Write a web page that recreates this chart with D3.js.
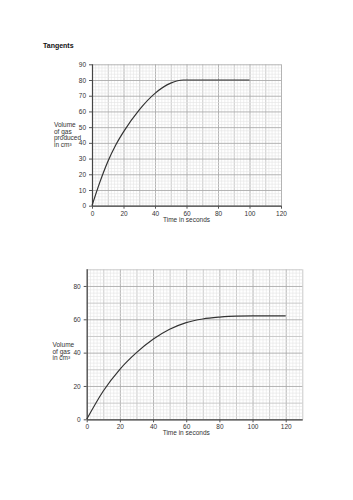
<!DOCTYPE html>
<html>
<head>
<meta charset="utf-8">
<script src="https://cdn.jsdelivr.net/npm/d3@7"></script>
<style>
  body { margin: 0; background: #fff; }
  text { font-family: "Liberation Sans", Arial, sans-serif; }
</style>
</head>
<body>
<div id="chart"></div>
<script>
// top chart
const times1 = [0, 5, 10, 15, 20, 30, 40, 50, 58, 100]
const volumes1 = [0, 15, 28, 38.5, 47, 61, 71.5, 78, 80, 80]
const xTicks1 = [0, 20, 40, 60, 80, 100, 120]
const yTicks1 = [0, 10, 20, 30, 40, 50, 60, 70, 80, 90]

// bottom chart
const times2 = [0, 10, 20, 30, 40, 50, 60, 70, 80, 90, 100, 120]
const volumes2 = [0, 17, 30, 40, 48, 54, 58, 60.2, 61.3, 61.9, 62, 62]
const xTicks2 = [0, 20, 40, 60, 80, 100, 120]
const yTicks2 = [0, 20, 40, 60, 80]

const svg = d3.select("#chart").append("svg")
    .attr("width", 353)
    .attr("height", 500)

svg.append("text")
    .attr("x", 43)
    .attr("y", 48)
    .attr("font-size", 7)
    .attr("font-weight", "bold")
    .attr("fill", "#111")
    .text("Tangents")

function drawGraph(opts) {
    const x = d3.scaleLinear().domain([0, opts.xMax]).range([opts.left, opts.right])
    const y = d3.scaleLinear().domain([0, 90]).range([opts.bottom, opts.top])

    const g = svg.append("g")

    // graph paper: minor every 2, medium every 10, major every 20
    const minorX = d3.range(0, opts.xMax + 0.1, 2)
    const minorY = d3.range(0, 90.1, 2)
    const lineColor = (v, major) => v % major === 0 ? "#ababab" : (v % 10 === 0 ? "#c4c4c4" : "#e4e4e4")
    const order = v => v % 10 === 0 ? 1 : 0

    g.append("g")
        .selectAll("line")
        .data(minorX.slice().sort((a, b) => order(a) - order(b)))
        .join("line")
        .attr("x1", d => x(d) + 0.5)
        .attr("x2", d => x(d) + 0.5)
        .attr("y1", y(0))
        .attr("y2", y(90))
        .attr("stroke", d => lineColor(d, 20))
        .attr("stroke-width", d => d % 10 === 0 ? 0.9 : 0.6)
    g.append("g")
        .selectAll("line")
        .data(minorY.slice().sort((a, b) => order(a) - order(b)))
        .join("line")
        .attr("y1", d => y(d) + 0.5)
        .attr("y2", d => y(d) + 0.5)
        .attr("x1", x(0))
        .attr("x2", x(opts.xMax))
        .attr("stroke", d => lineColor(d, opts.majorY))
        .attr("stroke-width", d => d % 10 === 0 ? 0.9 : 0.6)

    // axes
    const xAxis = g.append("g")
        .attr("transform", `translate(0, ${opts.bottom})`)
        .call(d3.axisBottom(x).tickValues(opts.xTicks).tickSize(3).tickSizeOuter(0))
    const yAxis = g.append("g")
        .attr("transform", `translate(${opts.left}, 0)`)
        .call(d3.axisLeft(y).tickValues(opts.yTicks).tickSize(3).tickSizeOuter(0))

    xAxis.select(".domain").attr("stroke", "#444").attr("stroke-width", 1.2)
    yAxis.select(".domain").attr("stroke", "#444").attr("stroke-width", 1.2)
        .attr("d", `M0.5,${opts.bottom}V${opts.top}`)
    g.selectAll(".tick line").attr("stroke", "#555")
    g.selectAll(".tick text")
        .attr("font-size", 6.5)
        .attr("fill", "#333")
        .attr("font-family", "Liberation Sans, Arial, sans-serif")
    xAxis.selectAll(".tick text").attr("dy", "0.6em")

    // curve
    const pts = opts.times.map((t, i) => [t, opts.volumes[i]])
    g.append("path")
        .datum(pts)
        .attr("fill", "none")
        .attr("stroke", "#333")
        .attr("stroke-width", 1.2)
        .attr("d", d3.line().x(d => x(d[0])).y(d => y(d[1])).curve(d3.curveMonotoneX))

    // labels
    g.append("text")
        .attr("x", (x(0) + x(120)) / 2)
        .attr("y", opts.bottom + 16)
        .attr("text-anchor", "middle")
        .attr("font-size", 6.5)
        .attr("fill", "#333")
        .text("Time in seconds")

    const yl = g.append("text")
        .attr("font-size", 6.5)
        .attr("fill", "#333")
    opts.yLabel.forEach((line, i) => {
        yl.append("tspan")
            .attr("x", opts.yLabelX)
            .attr("y", opts.yLabelY + i * 6.5)
            .text(line)
    })
}

drawGraph({
    left: 92, right: 281, top: 64.3, bottom: 205.7, xMax: 120, majorY: 10,
    times: times1, volumes: volumes1, xTicks: xTicks1, yTicks: yTicks1,
    yLabel: ["Volume", "of gas", "produced", "in cm\u00B3"], yLabelX: 54, yLabelY: 127
})

drawGraph({
    left: 86.7, right: 302.3, top: 269.3, bottom: 419.3, xMax: 130, majorY: 20,
    times: times2, volumes: volumes2, xTicks: xTicks2, yTicks: yTicks2,
    yLabel: ["Volume", "of gas", "in cm\u00B3"], yLabelX: 52.5, yLabelY: 347
})
</script>
</body>
</html>
